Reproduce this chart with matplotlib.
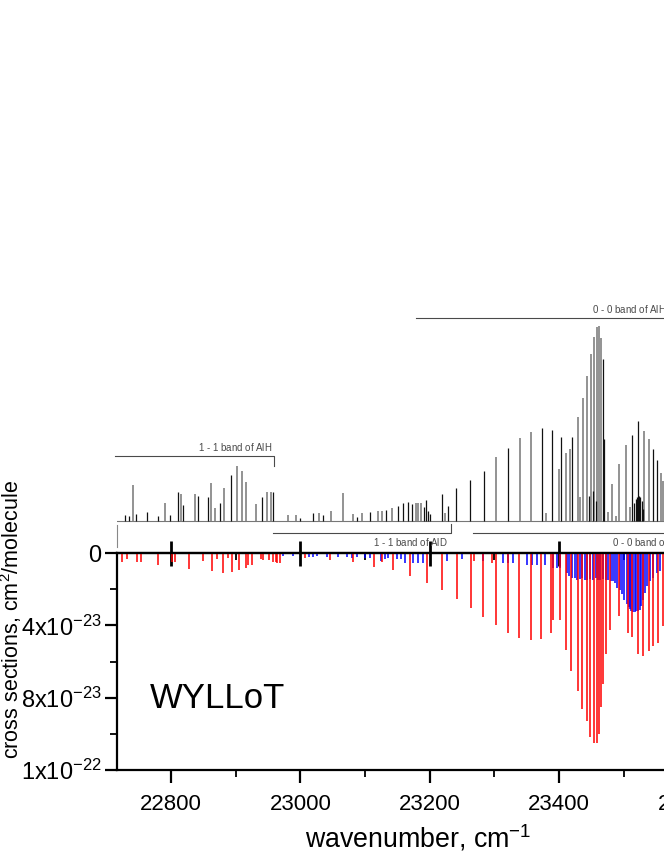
import matplotlib
matplotlib.use("Agg")
import matplotlib.pyplot as plt
import numpy as np

plt.rcParams['font.family'] = ['Liberation Sans', 'DejaVu Sans']
plt.rcParams['mathtext.fontset'] = 'custom'
plt.rcParams['mathtext.rm'] = 'Liberation Sans'
plt.rcParams['mathtext.it'] = 'Liberation Sans:italic'

# upper panel: stick spectrum (relative intensity), gray and black sticks
up_gray_wn = [22741, 22791, 22815, 22837, 22862, 22868, 22882, 22902, 22910, 22916,
              22931, 22948, 22955, 22981, 22993, 23029, 23047, 23066, 23081, 23095,
              23120, 23126, 23142, 23179, 23182, 23187, 23224, 23303, 23340, 23357,
              23380, 23400, 23411, 23417, 23429, 23432, 23437, 23443, 23449, 23454,
              23459, 23462, 23465, 23476, 23482, 23488, 23493, 23504, 23510, 23531,
              23539, 23558, 23561]
up_gray_int = [36, 18, 27, 27, 38, 13, 33, 55, 50, 39,
               17, 29, 29, 6, 6, 8, 10, 28, 7, 8,
               10, 10, 13, 18, 18, 18, 8, 64, 83, 89,
               8, 52, 68, 72, 104, 24, 123, 145, 167, 184,
               194, 195, 183, 9, 37, 5, 57, 76, 14, 90,
               82, 48, 40]
up_black_wn = [22729, 22735, 22746, 22763, 22780, 22798, 22811, 22819, 22842, 22857,
               22876, 22893, 22941, 22958, 22999, 23020, 23035, 23088, 23108, 23132,
               23151, 23159, 23167, 23173, 23191, 23194, 23197, 23201, 23219, 23228,
               23241, 23262, 23284, 23321, 23374, 23389, 23403, 23420, 23446, 23452,
               23457, 23468, 23470, 23513, 23516, 23519, 23521, 23524, 23526, 23528,
               23530, 23522, 23545, 23552]
up_black_int = [6, 5, 7, 9, 5, 6, 29, 16, 25, 24,
                18, 46, 24, 29, 3, 8, 6, 4, 9, 11,
                15, 18, 19, 17, 14, 21, 10, 7, 27, 15,
                33, 41, 50, 73, 93, 91, 84, 84, 25, 30,
                20, 162, 82, 86, 18, 22, 24, 25, 24, 20,
                12, 100, 72, 61]

# lower panel: cross sections, units of 1e-23 cm^2/molecule
alh_wn = [22724, 22732, 22747, 22754, 22780, 22802, 22806, 22828, 22849, 22863,
          22871, 22880, 22888, 22894, 22905, 22916, 22919, 22925, 22939, 22942,
          22952, 22958, 22962, 22964, 22969, 23007, 23046, 23081, 23114, 23126,
          23143, 23170, 23196, 23219, 23242, 23264, 23269, 23282, 23296, 23303,
          23321, 23338, 23357, 23372, 23388, 23391, 23402, 23411, 23419, 23429,
          23436, 23443, 23448, 23454, 23459, 23462, 23465, 23468, 23473, 23479,
          23493, 23507, 23513, 23522, 23530, 23539, 23545, 23553, 23561]
alh_val = [0.50, 0.33, 0.50, 0.50, 0.67, 0.50, 0.50, 0.89, 0.44, 1.00,
           0.33, 1.11, 0.28, 1.06, 0.94, 0.83, 0.67, 0.67, 0.33, 0.39,
           0.39, 0.50, 0.50, 0.56, 0.56, 0.28, 0.39, 0.50, 0.78, 0.50,
           0.94, 1.28, 1.67, 2.06, 2.56, 3.06, 0.44, 3.56, 0.56, 4.00,
           4.44, 4.72, 4.83, 4.78, 4.44, 3.72, 3.72, 5.39, 6.50, 7.61,
           8.61, 9.28, 10.17, 10.50, 10.50, 10.00, 8.50, 7.22, 5.56, 4.28,
           3.50, 4.44, 4.67, 5.56, 5.72, 5.44, 5.17, 5.00, 4.06]
ald_wn = [22973, 22989, 23013, 23020, 23026, 23041, 23058, 23072, 23080, 23088,
          23100, 23108, 23125, 23131, 23136, 23149, 23156, 23162, 23174, 23182,
          23190, 23227, 23250, 23282, 23313, 23321, 23329, 23351, 23358, 23366,
          23378, 23391, 23397, 23402, 23412, 23416, 23420, 23424, 23428, 23432,
          23436, 23440, 23443, 23448, 23453, 23457, 23460, 23464, 23468, 23472,
          23476, 23480, 23484, 23487, 23490, 23494, 23497, 23501, 23505, 23508,
          23510, 23512, 23514, 23517, 23519, 23522, 23525, 23527, 23530, 23533,
          23536, 23540, 23545, 23552, 23556]
ald_val = [0.17, 0.17, 0.22, 0.22, 0.17, 0.22, 0.22, 0.22, 0.28, 0.22,
           0.28, 0.28, 0.44, 0.33, 0.28, 0.33, 0.33, 0.56, 0.56, 0.56,
           0.56, 0.44, 0.33, 0.44, 0.56, 0.56, 0.56, 0.67, 0.67, 0.67,
           0.67, 0.83, 0.83, 0.83, 1.11, 1.28, 1.39, 1.39, 1.50, 1.44,
           1.39, 1.50, 1.50, 1.44, 1.50, 1.39, 1.50, 1.50, 1.44, 1.50,
           1.50, 1.56, 1.56, 1.67, 1.94, 2.06, 2.28, 2.61, 2.83, 3.00,
           3.11, 3.22, 3.28, 3.28, 3.22, 3.22, 3.17, 2.94, 2.61, 2.22,
           1.83, 1.56, 1.39, 1.11, 1.00]

x_ticks = [22800, 23000, 23200, 23400, 23600]
x_minor = [22900, 23100, 23300, 23500, 23700]
y_ticks = [0, 4e-23, 8e-23, 1.2e-22]
y_labels = ['0', '4x10$^{-23}$', '8x10$^{-23}$', '1x10$^{-22}$']
y_minor = [2e-23, 6e-23, 1e-22]

W, H = 664, 860
fig = plt.figure(figsize=(W / 100, H / 100), dpi=100)
xlim = (22716.5, 23700)

# ---- lower (cross section) axes
ax = fig.add_axes([117 / W, 90 / H, 636 / W, 217 / H])
ax.vlines(ald_wn, 0, np.array(ald_val) * 1e-23, color='#0000ff', lw=1.1)
ax.vlines(alh_wn, 0, np.array(alh_val) * 1e-23, color='#ff0000', lw=1.1)
ax.set_xlim(*xlim)
ax.set_ylim(1.2e-22, 0)
ax.spines['right'].set_visible(False)
for s in ['top', 'left', 'bottom']:
    ax.spines[s].set_linewidth(1.6)
ax.set_xticks(x_ticks)
ax.set_xticklabels([str(t) for t in x_ticks], fontsize=16)
ax.set_xticks(x_minor, minor=True)
ax.set_yticks(y_ticks)
ax.set_yticklabels(y_labels, fontsize=17)
ax.set_yticks(y_minor, minor=True)
ax.tick_params(which='major', direction='out', length=9, width=1.6, pad=2)
ax.tick_params(axis='x', which='major', pad=8)
ax.tick_params(which='minor', direction='out', length=5, width=1.3)

sec = ax.secondary_xaxis('top')
sec.set_xticks(x_ticks)
sec.set_xticks(x_minor, minor=True)
sec.tick_params(which='major', direction='inout', length=18, width=2, labeltop=False)
sec.tick_params(which='minor', direction='in', length=5, width=1.3)
sec.spines['top'].set_linewidth(1.6)

# ---- upper stick spectrum
up = fig.add_axes([117 / W, (H - 553) / H, 636 / W, 253 / H])
up.set_xlim(*xlim)
up.set_ylim(-32, 221)
up.axis('off')
up.axhline(0, color='#777777', lw=0.8)
up.vlines(up_gray_wn, 0, up_gray_int, color='#8a8a8a', lw=1.3)
up.vlines(up_black_wn, 0, up_black_int, color='#111111', lw=0.9)

gc = '#4a4a4a'
fs = 7
# 1 - 1 band of AlH
up.plot([22714, 22960, 22960], [65, 65, 55], color=gc, lw=0.8, clip_on=False)
up.text(22956, 68, r'$\it{1}$ - $\it{1}$ band of AlH', ha='right', va='bottom', fontsize=fs, color=gc)
# 0 - 0 band of AlH
up.plot([23179, 23700], [203, 203], color=gc, lw=0.8, clip_on=False)
up.text(23566, 206, r'$\it{0}$ - $\it{0}$ band of AlH', ha='right', va='bottom', fontsize=fs, color=gc,
        clip_on=False)
# 1 - 1 band of AlD
up.plot([22957, 23233, 23233], [-12, -12, -3], color=gc, lw=0.8, clip_on=False)
up.text(23228, -15, r'$\it{1}$ - $\it{1}$ band of AlD', ha='right', va='top', fontsize=fs, color=gc)
# 0 - 0 band of AlD
up.plot([23267, 23700], [-12, -12], color=gc, lw=0.8, clip_on=False)
up.text(23482, -15, r'$\it{0}$ - $\it{0}$ band of AlD', ha='left', va='top', fontsize=fs, color=gc)
up.plot([22717, 22717], [-4, -26], color='#888888', lw=0.8, clip_on=False)

fig.text(11 / W, 1 - 620 / H, 'cross sections, cm$^{2}$/molecule', rotation=90,
         ha='center', va='center', fontsize=15.5)
fig.text(418 / W, 1 - 838 / H, 'wavenumber, cm$^{-1}$', ha='center', va='center', fontsize=19.3)
fig.text(150 / W, 1 - 699 / H, 'WYLLoT', ha='left', va='center', fontsize=25)

fig.savefig('out.png', dpi=100)
